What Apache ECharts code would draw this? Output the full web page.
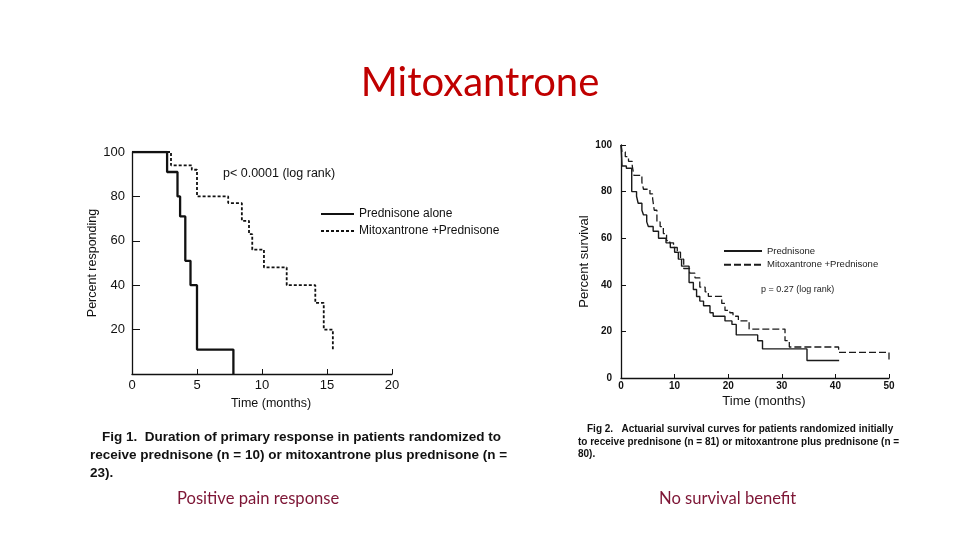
<!DOCTYPE html>
<html>
<head>
<meta charset="utf-8">
<script src="https://cdn.jsdelivr.net/npm/echarts@6.0.0/dist/echarts.min.js"></script>
<style>
html,body{margin:0;padding:0;background:#fff;}
#chart{width:960px;height:540px;}
</style>
</head>
<body>
<div id="chart"></div>
<script>
// ---- Fig 1: duration of primary response (months, percent responding) ----
const respPredT = [0, 2.7, 3.5, 3.7, 4.1, 4.5, 5.0, 7.8];
const respPredP = [100, 91, 80, 71, 51, 40, 11, 0];
const respMitoT = [0, 3.0, 4.6, 5.0, 7.4, 8.45, 9.0, 9.25, 10.15, 11.9, 14.1, 14.75, 15.45];
const respMitoP = [100, 94, 92, 80, 77, 69, 63, 56, 48, 40, 32, 20, 11];

// ---- Fig 2: actuarial survival (months, percent survival) ----
const survPredT = [0, 0.2, 1.0, 2.0, 2.9, 3.2, 3.9, 4.2, 4.8, 5.1, 6.0, 7.0, 8.4, 9.2, 10.0, 10.7, 11.3, 12.7, 13.5, 14.1, 14.7, 15.4, 16.6, 17.2, 19.4, 20.7, 21.5, 25.5, 26.4, 34.7, 40.7];
const survPredP = [100, 91, 90, 80, 78, 75, 72, 70, 67, 65, 63, 60, 58, 56, 54, 51, 48, 41, 38, 35, 33, 31, 28, 26.5, 24.5, 23, 18.5, 16, 12.5, 7.5, 7.5];
const survMitoT = [0, 0.2, 0.8, 1.4, 2.1, 2.4, 3.9, 4.2, 5.4, 5.9, 6.2, 6.7, 7.3, 7.9, 8.5, 9.1, 9.8, 10.5, 11.1, 11.7, 12.8, 13.8, 14.7, 15.7, 16.3, 18.8, 19.4, 20.3, 20.9, 21.9, 23.9, 30.6, 31.4, 40.6, 50];
const survMitoP = [100, 97, 95, 93, 91, 87, 84, 81, 79, 77, 72, 67, 65, 62, 59, 58, 56, 54, 51, 47, 45, 43, 39, 37, 35, 32, 29, 28, 26.5, 24.5, 21, 16, 13.3, 11, 7];

const leftXTicks = {min: 0, max: 20, interval: 5};
const rightXTicks = {min: 0, max: 50, interval: 10};
const yTicks = {min: 0, max: 100, interval: 20};

const zip = (xs, ys) => xs.map((x, i) => [x, ys[i]]);
const SANS = "'Liberation Sans', Arial, sans-serif";
const RIGHT_SUFFIX = ' (survival)';

const chart = echarts.init(document.getElementById('chart'), null, {renderer: 'canvas'});

const option = {
  backgroundColor: '#ffffff',
  animation: false,
  title: [{
    text: 'Mitoxantrone',
    left: 'center', top: 58,
    textStyle: {fontFamily: "Lato, 'Open Sans', sans-serif", fontSize: 40, fontWeight: 'normal', color: '#c00000'}
  }],
  grid: [
    {left: 132, top: 152, width: 260, height: 222},
    {left: 621, top: 145, width: 268, height: 233}
  ],
  xAxis: [
    {
      gridIndex: 0, type: 'value', min: leftXTicks.min, max: leftXTicks.max, interval: leftXTicks.interval,
      name: 'Time (months)', nameLocation: 'middle', nameGap: 23,
      nameTextStyle: {fontFamily: SANS, fontSize: 12.5, color: '#111', padding: [0, 0, 0, 18]},
      axisLine: {lineStyle: {color: '#111', width: 1.3}},
      axisTick: {inside: true, length: 5, lineStyle: {color: '#111'}},
      axisLabel: {fontFamily: SANS, fontSize: 13, color: '#111', margin: 5},
      splitLine: {show: false}
    },
    {
      gridIndex: 1, type: 'value', min: rightXTicks.min, max: rightXTicks.max, interval: rightXTicks.interval,
      name: 'Time (months)', nameLocation: 'middle', nameGap: 17,
      nameTextStyle: {fontFamily: SANS, fontSize: 13, color: '#111', padding: [0, 0, 0, 18]},
      axisLine: {lineStyle: {color: '#111', width: 1.3}},
      axisTick: {inside: true, length: 4, lineStyle: {color: '#111'}},
      axisLabel: {fontFamily: SANS, fontSize: 10, fontWeight: 'bold', color: '#111', margin: 3},
      splitLine: {show: false}
    }
  ],
  yAxis: [
    {
      gridIndex: 0, type: 'value', min: yTicks.min, max: yTicks.max, interval: yTicks.interval,
      name: 'Percent responding', nameLocation: 'middle', nameGap: 32,
      nameTextStyle: {fontFamily: SANS, fontSize: 12.5, color: '#111'},
      axisLine: {show: true, lineStyle: {color: '#111', width: 1.3}},
      axisTick: {show: true, inside: true, length: 8, lineStyle: {color: '#111'}},
      axisLabel: {fontFamily: SANS, fontSize: 13, color: '#111', margin: 7, showMinLabel: false},
      splitLine: {show: false}
    },
    {
      gridIndex: 1, type: 'value', min: yTicks.min, max: yTicks.max, interval: yTicks.interval,
      name: 'Percent survival', nameLocation: 'middle', nameGap: 30,
      nameTextStyle: {fontFamily: SANS, fontSize: 13, color: '#111'},
      axisLine: {show: true, lineStyle: {color: '#111', width: 1.3}},
      axisTick: {show: true, inside: true, length: 5, lineStyle: {color: '#111'}},
      axisLabel: {fontFamily: SANS, fontSize: 10, fontWeight: 'bold', color: '#111', margin: 9},
      splitLine: {show: false}
    }
  ],
  legend: [
    {
      orient: 'vertical', left: 315, top: 203, itemWidth: 33, itemHeight: 12, itemGap: 5,
      data: ['Prednisone alone', 'Mitoxantrone +Prednisone'],
      itemStyle: {opacity: 0},
      textStyle: {fontFamily: SANS, fontSize: 12, color: '#111'},
      selectedMode: false
    },
    {
      orient: 'vertical', left: 718, top: 241, itemWidth: 38, itemHeight: 8, itemGap: 3.7,
      data: ['Prednisone', 'Mitoxantrone +Prednisone' + RIGHT_SUFFIX],
      formatter: n => n.replace(RIGHT_SUFFIX, ''),
      itemStyle: {opacity: 0},
      textStyle: {fontFamily: SANS, fontSize: 9.5, color: '#222'},
      selectedMode: false
    }
  ],
  series: [
    {
      name: 'Prednisone alone', type: 'line', step: 'end', xAxisIndex: 0, yAxisIndex: 0,
      data: zip(respPredT, respPredP), symbol: 'none',
      lineStyle: {color: '#111', width: 2.3}, itemStyle: {color: '#111'}
    },
    {
      name: 'Mitoxantrone +Prednisone', type: 'line', step: 'end', xAxisIndex: 0, yAxisIndex: 0,
      data: zip(respMitoT, respMitoP), symbol: 'none',
      lineStyle: {color: '#111', width: 1.8, type: [3, 2]}, itemStyle: {color: '#111'}
    },
    {
      name: 'Prednisone', type: 'line', step: 'end', xAxisIndex: 1, yAxisIndex: 1,
      data: zip(survPredT, survPredP), symbol: 'none',
      lineStyle: {color: '#1a1a1a', width: 1.4}, itemStyle: {color: '#1a1a1a'}
    },
    {
      name: 'Mitoxantrone +Prednisone' + RIGHT_SUFFIX, type: 'line', step: 'end', xAxisIndex: 1, yAxisIndex: 1,
      data: zip(survMitoT, survMitoP), symbol: 'none',
      lineStyle: {color: '#1a1a1a', width: 1.3, type: [7, 3]}, itemStyle: {color: '#1a1a1a'}
    }
  ],
  graphic: [
    {type: 'text', left: 223, top: 167, style: {text: 'p< 0.0001 (log rank)', font: "12.5px 'Liberation Sans', Arial", fill: '#111'}},
    {type: 'text', left: 761, top: 285, style: {text: 'p = 0.27 (log rank)', font: "9px 'Liberation Sans', Arial", fill: '#222'}},
    {type: 'text', left: 102, top: 430, style: {text: 'Fig 1.  Duration of primary response in patients randomized to', font: "bold 13.5px 'Liberation Sans', Arial", fill: '#111'}},
    {type: 'text', left: 90, top: 448, style: {text: 'receive prednisone (n = 10) or mitoxantrone plus prednisone (n =', font: "bold 13.5px 'Liberation Sans', Arial", fill: '#111'}},
    {type: 'text', left: 90, top: 466, style: {text: '23).', font: "bold 13.5px 'Liberation Sans', Arial", fill: '#111'}},
    {type: 'text', left: 587, top: 424, style: {text: 'Fig 2.   Actuarial survival curves for patients randomized initially', font: "bold 10px 'Liberation Sans', Arial", fill: '#111'}},
    {type: 'text', left: 578, top: 437, style: {text: 'to receive prednisone (n = 81) or mitoxantrone plus prednisone (n =', font: "bold 10px 'Liberation Sans', Arial", fill: '#111'}},
    {type: 'text', left: 578, top: 449, style: {text: '80).', font: "bold 10px 'Liberation Sans', Arial", fill: '#111'}},
    {type: 'text', left: 177, top: 490, style: {text: 'Positive pain response', font: "16.6px Lato, 'Open Sans', sans-serif", fill: '#7d1535'}},
    {type: 'text', left: 659, top: 490, style: {text: 'No survival benefit', font: "16.6px Lato, 'Open Sans', sans-serif", fill: '#7d1535'}}
  ]
};

chart.setOption(option);
</script>
</body>
</html>
